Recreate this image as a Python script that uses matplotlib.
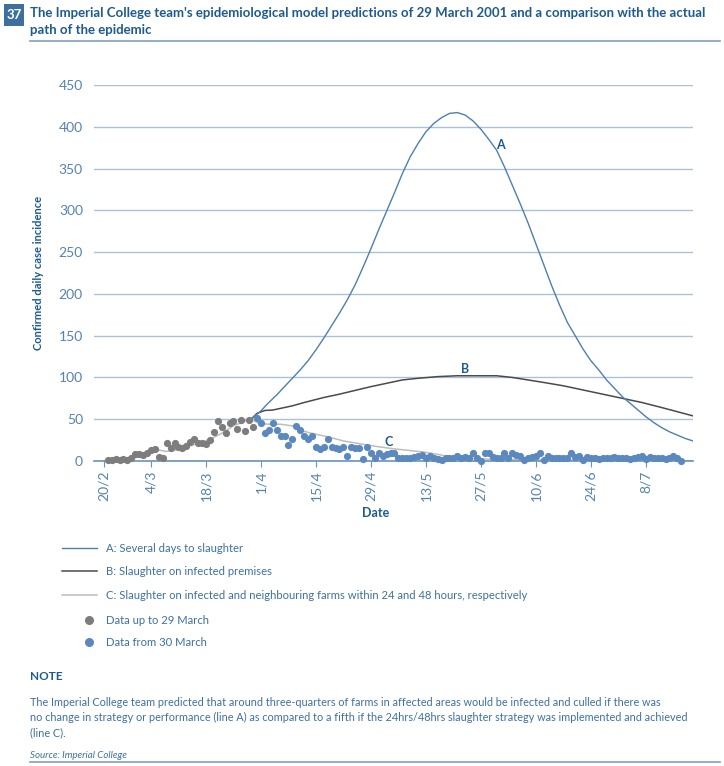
import matplotlib
matplotlib.use("Agg")
import matplotlib.pyplot as plt
import numpy as np
from matplotlib.lines import Line2D
from matplotlib.patches import Rectangle

plt.rcParams["font.family"] = ["Lato", "DejaVu Sans"]

# x positions are days after 20 February 2001
tick_days = [0, 12, 26, 40, 54, 68, 82, 96, 110, 124, 138]
tick_labels = ["20/2", "4/3", "18/3", "1/4", "15/4", "29/4", "13/5", "27/5", "10/6", "24/6", "8/7"]

data_before = [1, 1, 2, 1, 2, 1, 4, 8, 8, 7, 10, 13, 14, 5, 4, 21, 16, 22, 17, 16,
               18, 23, 26, 21, 22, 20, 25, 35, 48, 41, 33, 46, 48, 38, 49, 36, 49, 41]
data_after = [52, 45, 34, 37, 45, 37, 30, 30, 19, 26, 42, 37, 30, 26, 30, 17, 14, 17, 26, 17,
              15, 14, 17, 6, 17, 15, 15, 2.5, 17, 9, 4, 9, 6, 8, 10, 9, 4, 4, 4, 4, 5,
              6, 7, 4, 6, 3, 2, 1, 3, 4, 3, 6, 4, 5, 4, 9, 3, 0.5, 9, 9, 5,
              4, 4, 10, 4, 9, 7, 6, 1, 3, 5, 6, 9, 1, 6, 4, 3, 3, 3, 4, 9,
              5, 6, 1, 5, 4, 4, 2, 3, 4, 4, 5, 4, 3, 4, 2, 4, 5, 6, 2, 5,
              4, 4, 4, 2, 4, 6, 3, 0.5]

a_days = [37.5, 40, 42, 44, 46, 48, 50, 52, 54, 56, 58, 60, 62, 64, 66, 68, 70, 72, 74, 76,
          78, 80, 82, 84, 86, 88, 90, 92, 94, 96, 98, 100, 102, 104, 106, 108, 110, 112, 114,
          116, 118, 120, 122, 124, 126, 128, 130, 132, 134, 136, 138, 140, 142, 144, 146, 148, 150]
a_vals = [50, 60, 70, 79, 89, 99, 109, 120, 133, 147, 162, 177, 193, 211, 232, 254, 277, 299, 321, 344,
          364, 380, 394, 404, 411, 416, 417, 414, 407, 397, 385, 372, 352, 330, 308, 285, 260, 235, 210,
          187, 166, 150, 134, 120, 109, 97, 87, 77, 69, 61, 53, 46, 40, 35, 31, 27, 24]

b_days = [37.5, 39, 41, 43, 45, 48, 51, 56, 60, 64, 68, 72, 76, 80, 85, 90, 95, 100, 104, 108,
          112, 117, 121, 125, 129, 133, 137, 142, 146, 150]
b_vals = [50, 57, 60.5, 61, 63, 66, 70, 76, 80, 84.5, 89, 93, 97, 99, 101, 102, 102, 102, 100, 97,
          94, 90, 86, 82, 78, 74, 70, 64, 59, 54]

c_days = [0, 4, 6, 9, 12, 14, 16, 18, 21, 24, 27, 30, 33, 36, 37.5, 39.5, 42, 45, 48, 50, 53, 57,
          61, 66, 70, 74, 78, 81, 85, 88, 92, 100, 115, 130, 150]
c_vals = [0, 1, 2, 5, 10, 13, 11.5, 13, 17, 21, 26, 33, 42, 48, 50, 45, 44, 44, 42, 37, 33, 29,
          24, 20, 17, 14.5, 12.5, 11, 8, 5, 3, 2, 1, 0.5, 0.3]

legend_labels = ["A: Several days to slaughter",
                 "B: Slaughter on infected premises",
                 "C: Slaughter on infected and neighbouring farms within 24 and 48 hours, respectively",
                 "Data up to 29 March",
                 "Data from 30 March"]

note_lines = ["The Imperial College team predicted that around three-quarters of farms in affected areas would be infected and culled if there was",
              "no change in strategy or performance (line A) as compared to a fifth if the 24hrs/48hrs slaughter strategy was implemented and achieved",
              "(line C)."]

blue_a = "#4d7fb2"
dark_b = "#4a4a4a"
grey_c = "#bdbdbd"
grey_dot = "#7d7d7d"
blue_dot = "#5b88bf"
title_col = "#1d5a90"
text_col = "#3e70a2"
tick_col = "#5583b2"
grid_col = "#a9c2db"

W, H = 724, 766
fig = plt.figure(figsize=(W / 100, H / 100), dpi=100)
ax = fig.add_axes([94 / W, 1 - 461 / H, (693 - 94) / W, (461 - 85) / H])

ax.set_xlim(-2.5, 150)
ax.set_ylim(0, 450)
ax.set_yticks(np.arange(0, 451, 50))
ax.yaxis.grid(True, color=grid_col, linewidth=1.0)
ax.set_axisbelow(True)
for s in ["top", "right", "left"]:
    ax.spines[s].set_visible(False)
ax.spines["bottom"].set_color("#6a92bb")
ax.spines["bottom"].set_linewidth(1.2)
ax.tick_params(axis="y", length=0, pad=8, labelsize=10, labelcolor=tick_col)
ax.set_xticks(tick_days)
ax.set_xticklabels(tick_labels, rotation=90)
ax.tick_params(axis="x", length=4, width=0.8, color="#6a92bb", pad=3, labelsize=10, labelcolor=tick_col)

ax.plot(c_days, c_vals, color=grey_c, linewidth=1.1, zorder=2)
ax.plot(b_days, b_vals, color=dark_b, linewidth=1.1, zorder=3)
ax.plot(a_days, a_vals, color=blue_a, linewidth=1.0, zorder=3)

days_before = np.arange(1, len(data_before) + 1)
days_after = np.arange(len(data_before) + 1, len(data_before) + 1 + len(data_after))
ax.scatter(days_before, data_before, s=27, color=grey_dot, zorder=4, clip_on=False, linewidths=0)
ax.scatter(days_after, data_after, s=27, color=blue_dot, zorder=4, clip_on=False, linewidths=0)

ax.text(101, 378, "A", color=title_col, fontsize=9, fontweight="bold", ha="center", va="center")
ax.text(92, 110, "B", color=title_col, fontsize=9, fontweight="bold", ha="center", va="center")
ax.text(72.5, 23, "C", color=title_col, fontsize=9, fontweight="bold", ha="center", va="center")

ax.set_ylabel("Confirmed daily case incidence", color=title_col, fontsize=8, fontweight="bold")
ax.yaxis.set_label_coords((44 - 94) / 599, 0.5)
ax.set_xlabel("Date", color=title_col, fontsize=9, fontweight="bold")
ax.xaxis.set_label_coords((376 - 94) / 599, (461 - 513) / 376)
ax.xaxis.label.set_va("center")

# legend: lines, then the two data series
line_handles = [Line2D([], [], color=blue_a, linewidth=1.0),
                Line2D([], [], color=dark_b, linewidth=1.1),
                Line2D([], [], color=grey_c, linewidth=1.1)]
leg1 = fig.legend(line_handles, legend_labels[:3], loc="upper left",
                  bbox_to_anchor=(62 / W, 1 - 543 / H), frameon=False, fontsize=8.1,
                  handlelength=3.1, handletextpad=0.8, labelspacing=1.1, borderpad=0, borderaxespad=0)
dot_handles = [Line2D([], [], color=grey_dot, marker="o", linestyle="none", markersize=5.5),
               Line2D([], [], color=blue_dot, marker="o", linestyle="none", markersize=5.5)]
leg2 = fig.legend(dot_handles, legend_labels[3:], loc="upper left",
                  bbox_to_anchor=(82 / W, 1 - 615 / H), frameon=False, fontsize=8.1,
                  handlelength=1.3, handletextpad=0.8, labelspacing=1.0, borderpad=0, borderaxespad=0)
for leg in (leg1, leg2):
    for t in leg.get_texts():
        t.set_color(text_col)

# header
fig.add_artist(Rectangle((4 / W, 1 - 26 / H), 20 / W, 22 / H, transform=fig.transFigure,
                         facecolor="#3d6f9f", edgecolor="none"))
fig.text(14 / W, 1 - 15 / H, "37", color="white", fontsize=9.5, fontweight="bold", ha="center", va="center")
fig.text(30 / W, 1 - 13 / H,
         "The Imperial College team's epidemiological model predictions of 29 March 2001 and a comparison with the actual",
         color=title_col, fontsize=9.5, fontweight="bold", ha="left", va="center")
fig.text(30 / W, 1 - 30 / H, "path of the epidemic",
         color=title_col, fontsize=9.5, fontweight="bold", ha="left", va="center")
fig.add_artist(Line2D([30 / W, 720 / W], [1 - 41 / H, 1 - 41 / H], transform=fig.transFigure,
                      color="#7f9fc2", linewidth=1.2))

# note
fig.text(30 / W, 1 - 676 / H, "NOTE", color=title_col, fontsize=8.5, fontweight="bold", ha="left", va="center")
for i, line in enumerate(note_lines):
    fig.text(30 / W, 1 - (702 + 15.5 * i) / H, line, color=text_col, fontsize=7.85, ha="left", va="center")
fig.text(30 / W, 1 - 755 / H, "Source: Imperial College", color=text_col, fontsize=7,
         style="italic", ha="left", va="center")
fig.add_artist(Line2D([30 / W, 720 / W], [1 - 762 / H, 1 - 762 / H], transform=fig.transFigure,
                      color="#7f9fc2", linewidth=1.2))

fig.savefig("out.png", dpi=100)
